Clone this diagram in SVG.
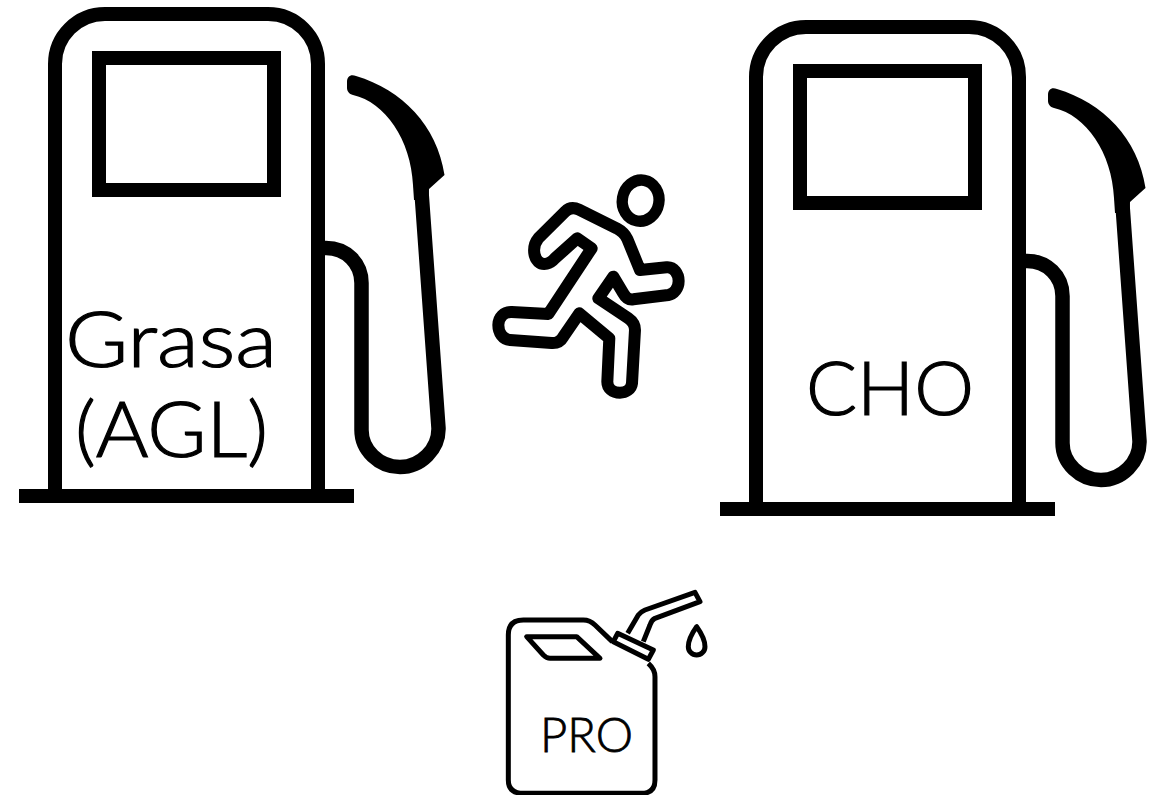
<svg xmlns="http://www.w3.org/2000/svg" xmlns:xlink="http://www.w3.org/1999/xlink" width="1163" height="795" viewBox="0 0 1163 795">
<style>
.l{fill:none;stroke:#000;stroke-linejoin:round}
.t{font-family:"Lato","Liberation Sans",sans-serif;font-weight:300;fill:#000;stroke:#000;stroke-width:1.2}
</style>
<defs>
<g id="pump">
<path class="l" stroke-width="14" stroke-linejoin="miter" d="M55,496V64A50,50 0 0 1 105,14H268A50,50 0 0 1 318,64V496"/>
<rect x="19" y="489" width="335" height="14"/>
<rect x="99" y="58" width="175" height="132" fill="none" stroke="#000" stroke-width="14"/>
<path class="l" stroke-width="14.500" d="M318,248H326C346,248 361.500,263 361.500,283V430C361.500,450 379,467 400,467C421,467 439,449 438.500,428L421,185"/>
<path d="M347,82C347,76 351,74 356,76C402,90 437,125 444.500,175L429,189L428.500,200L414,200L413,185C411,140 385,102 353,95C349,94 347,91 347,88Z"/>
</g>
</defs>
<g id="pump-fat">
<use href="#pump"/>
<text class="t" x="65" y="367" font-size="76" textLength="212" lengthAdjust="spacingAndGlyphs">Grasa</text>
<text class="t" x="75" y="457" font-size="76" textLength="193" lengthAdjust="spacingAndGlyphs">(AGL)</text>
</g>
<g id="pump-cho" transform="translate(701,13)">
<use href="#pump"/>
<text class="t" x="105" y="402" font-size="74" textLength="168" lengthAdjust="spacingAndGlyphs">CHO</text>
</g>
<g id="runner" transform="translate(480,170) scale(.3333)">
<ellipse class="l" cx="482" cy="92" rx="55" ry="62" stroke-width="34" transform="rotate(10 482 92)"/>
<path class="l" stroke-width="36" d="M255,125C268,112 283,112 297,119L410,175C425,183 435,192 442,207L480,300L560,292C582,290 596,312 596,333C596,355 582,372 565,375L460,388C447,390 437,383 430,370L400,320L355,385L445,445C458,454 465,465 465,480L456,640C454,658 437,668 420,668C398,668 382,655 382,635L388,505L298,430L250,500C242,514 230,520 215,519L90,510C68,508 55,488 55,465C55,442 72,425 95,426L205,432L335,235L292,205L225,265C210,282 190,288 175,275C158,258 158,225 175,205Z"/>
</g>
<g id="can">
<g transform="translate(495,580) scale(.3333)">
<path class="l" stroke-width="15" d="M352,185L300,135Q285,120 265,120H85Q40,120 40,165V600Q40,640 85,640H440Q480,640 480,600V290Q480,268 460,250"/>
<path class="l" stroke-width="15" d="M95,170H245L315,235H165Q155,235 145,225Z"/>
<path class="l" stroke-width="15" d="M368,160L475,210L460,238L355,185Z"/>
<path class="l" stroke-width="15" d="M398,160L430,105Q438,95 450,90L600,37L615,65L480,115Q470,120 465,135L445,185"/>
<path class="l" stroke-width="15" d="M605,140Q580,175 580,200A25,25 0 0 0 630,200Q630,175 605,140Z"/>
</g>
<text class="t" x="540" y="752" font-size="48" textLength="93" lengthAdjust="spacingAndGlyphs" style="stroke-width:.8">PRO</text>
</g>
</svg>
